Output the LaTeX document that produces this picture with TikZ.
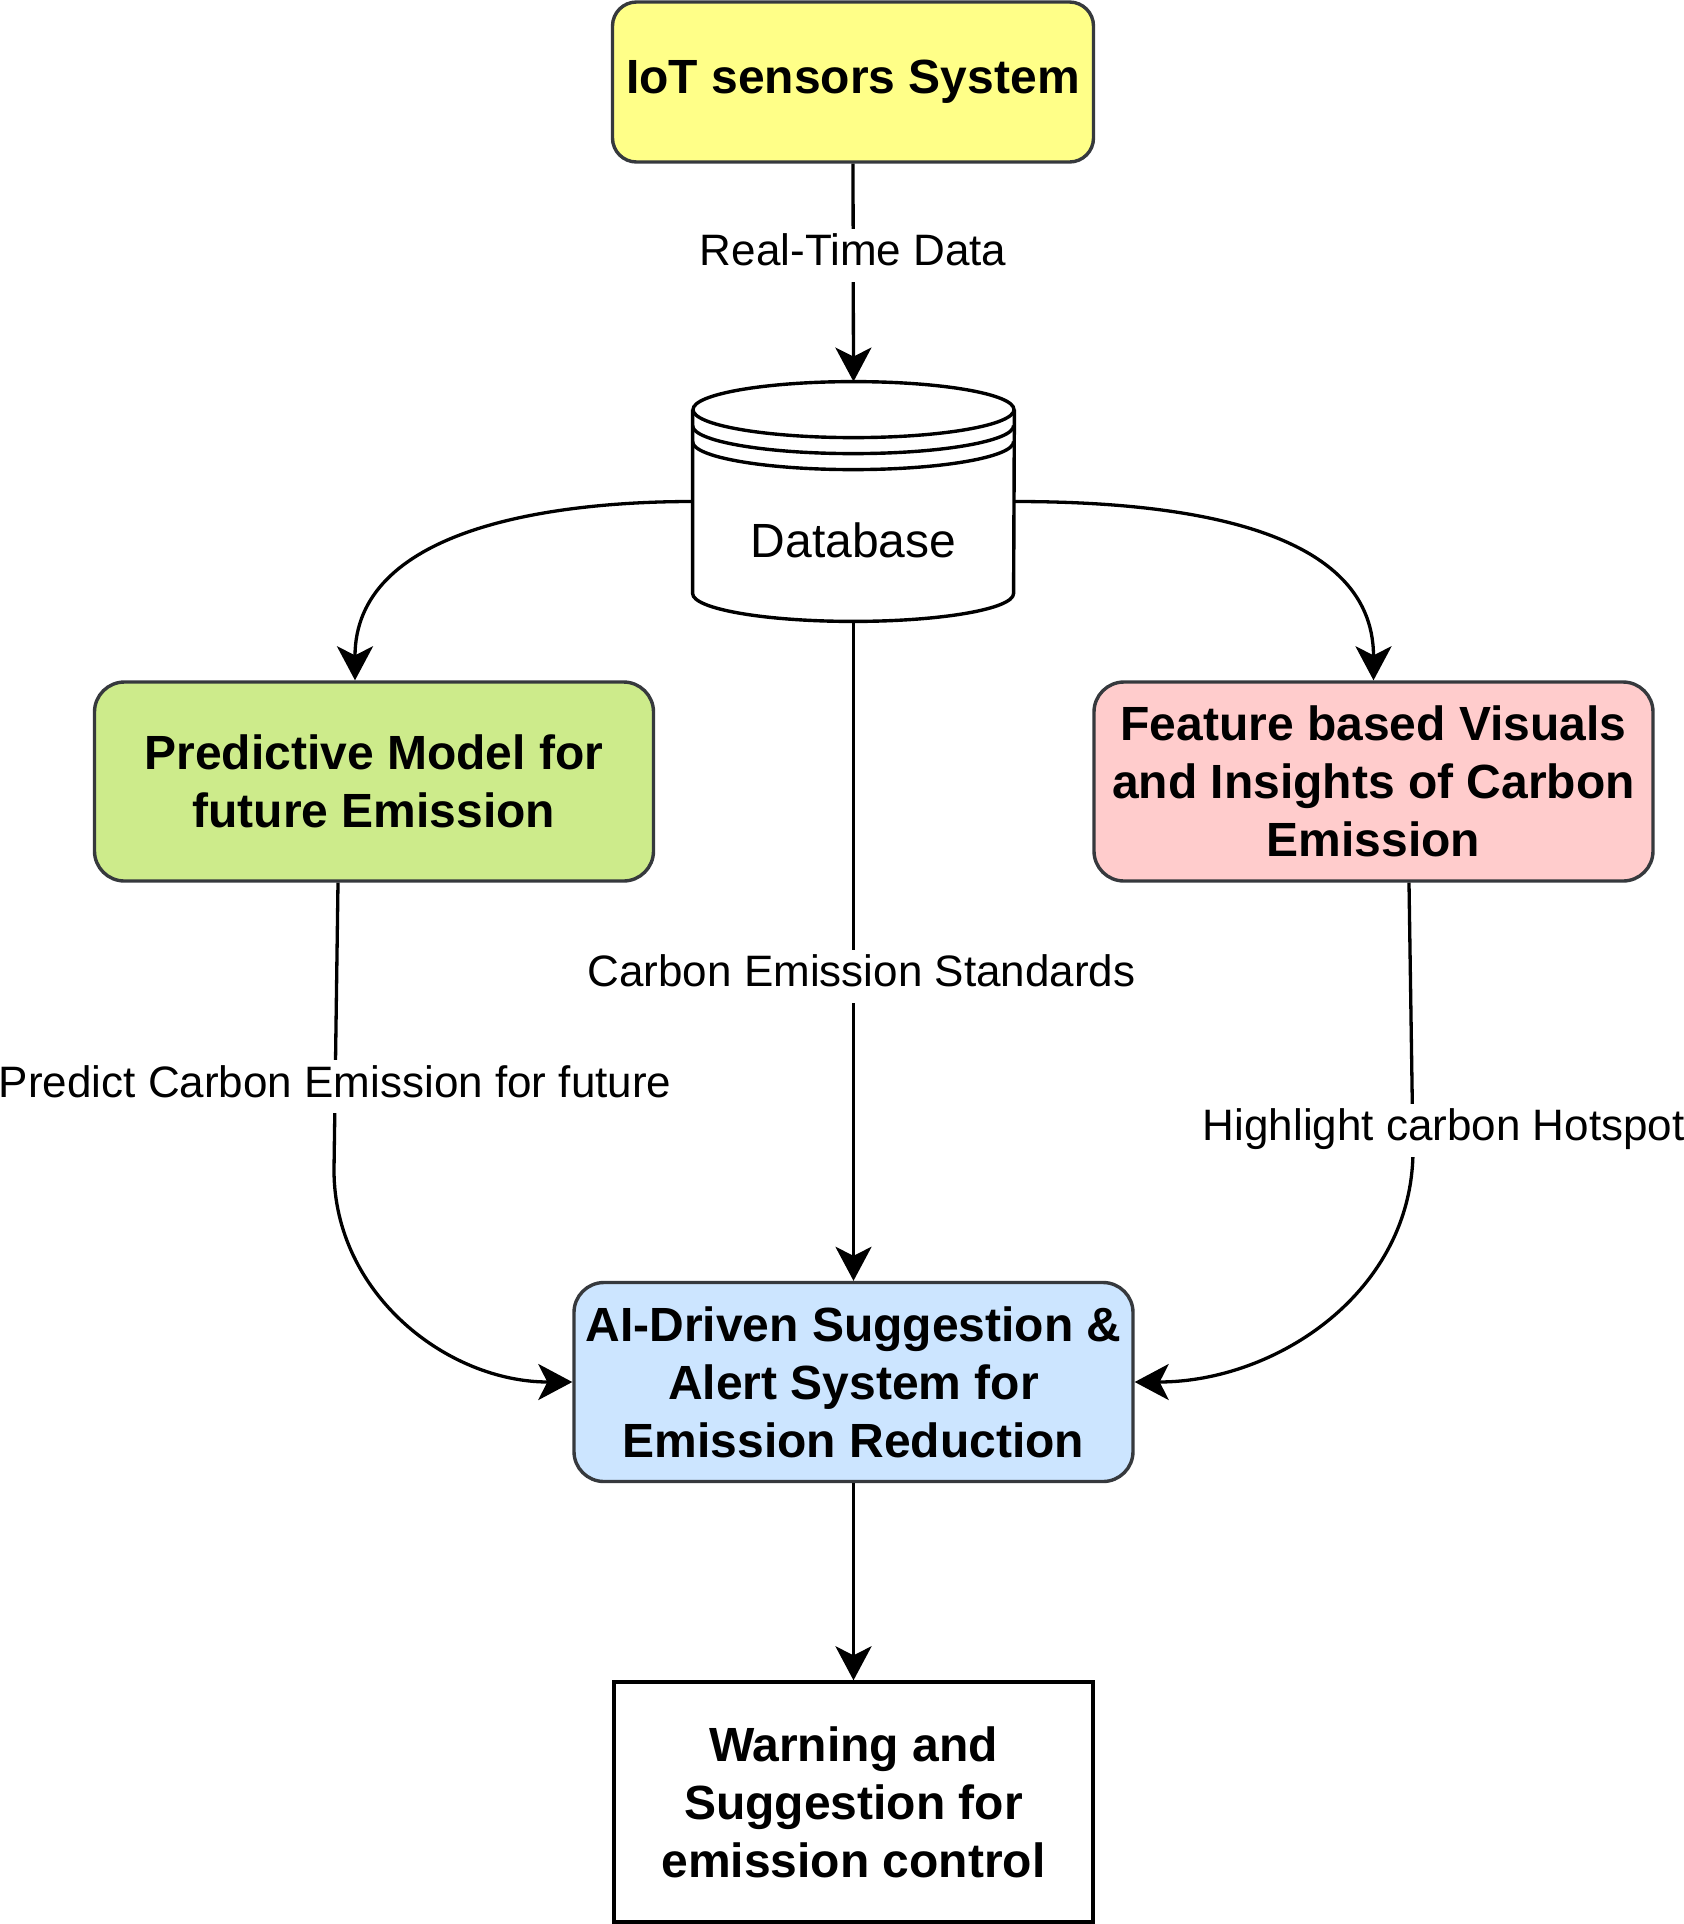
\documentclass[tikz,border=0pt]{standalone}
\usepackage{fontspec}
\setmainfont{Liberation Sans}
\usepackage{xcolor}
\definecolor{boxline}{RGB}{54,57,61}
\definecolor{iotyellow}{RGB}{255,255,136}
\definecolor{predgreen}{RGB}{205,235,139}
\definecolor{featred}{RGB}{255,204,204}
\definecolor{aiblue}{RGB}{204,229,255}
\usepackage{tikz}
\usetikzlibrary{calc}
\usetikzlibrary{arrows.meta}
\newcommand{\radiusdb}{80.25pt}
\newcommand{\heightdb}{14pt}
\tikzset{
    common/.style={draw=boxline, line width=1.7pt, align=center, inner sep=0pt, font=\bfseries\fontsize{24}{29}\selectfont},
    stage/.style={common, rounded corners=15pt, minimum width=279.5pt, minimum height=99.5pt},
    topbox/.style={common, rounded corners=12pt, fill=iotyellow, minimum width=240.5pt, minimum height=80pt},
    endbox/.style={common, draw=black, fill=white, minimum width=239.5pt, minimum height=120pt},
    store/.style={minimum width=160.5pt, minimum height=119.5pt, inner sep=0pt},
    storeline/.style={draw=black, line width=1.7pt},
    flow/.style={-{Stealth[length=17pt, width=18pt, inset=4.5pt]}, line width=1.65pt},
    tag/.style={fill=white, font=\fontsize{22}{26}\selectfont, text height=15.5pt, text depth=5pt, inner xsep=2pt, inner ysep=3pt}
}

\begin{document}
\begin{tikzpicture}[x=0.5pt, y=-0.5pt]
  \useasboundingbox (0,0) rectangle (1684,1924);

  \node[topbox] (iot) at (853,82) {IoT sensors System};
  \node[store] (db) at (853.5,501.5) {};
  \node[stage, fill=predgreen] (pred) at (374,781.5) {Predictive Model for\\future Emission};
  \node[stage, fill=featred] (feat) at (1373.5,781.5) {Feature based Visuals\\and Insights of Carbon\\Emission};
  \node[stage, fill=aiblue] (ai) at (853.5,1382) {AI-Driven Suggestion \&\\Alert System for\\Emission Reduction};
  \node[endbox] (warn) at (853.5,1802) {Warning and\\Suggestion for\\emission control};

  \filldraw[storeline, fill=white] ($(db.north west)+(0,28)$) -- ($(db.south west)+(0,-28)$)
    arc[start angle=180, end angle=360, x radius=\radiusdb, y radius=\heightdb]
    -- ($(db.north east)+(0,28)$);
  \draw[storeline] ($(db.north)+(0,28)$) ellipse [x radius=\radiusdb, y radius=\heightdb];
  \draw[storeline]
    ($(db.north west)+(0,44)$) arc[start angle=180, end angle=360, x radius=\radiusdb, y radius=\heightdb]
    ($(db.north west)+(0,60)$) arc[start angle=180, end angle=360, x radius=\radiusdb, y radius=\heightdb];
  \node[font=\fontsize{24}{29}\selectfont] (db-text) at ($(db.center)+(0,38.5)$) {Database};

  \coordinate (pred-bend) at (334,1170);
  \coordinate (feat-bend) at (1413,1150);

  \draw[flow] (iot.south) -- node[tag, pos=0.42] {Real-Time Data} (db.north);
  \draw[flow] (db.west) to[out=180, in=90] ($(pred.north)+(-19,0)$);
  \draw[flow] (db.east) to[out=0, in=90] (feat.north);
  \draw[flow] (db.south) -- node[tag, pos=0.538, xshift=4pt] {Carbon Emission Standards} (ai.north);
  \draw[flow] ($(pred.south)+(-36,0)$) -- node[tag, pos=0.71] {Predict Carbon Emission for future} (pred-bend)
    to[out=-90, in=180] (ai.west);
  \draw[flow] ($(feat.south)+(35.5,0)$) -- node[tag, pos=0.926, xshift=15.5pt] {Highlight carbon Hotspot} (feat-bend)
    to[out=-90, in=0] (ai.east);
  \draw[flow] (ai) -- (warn);
\end{tikzpicture}
\end{document}
